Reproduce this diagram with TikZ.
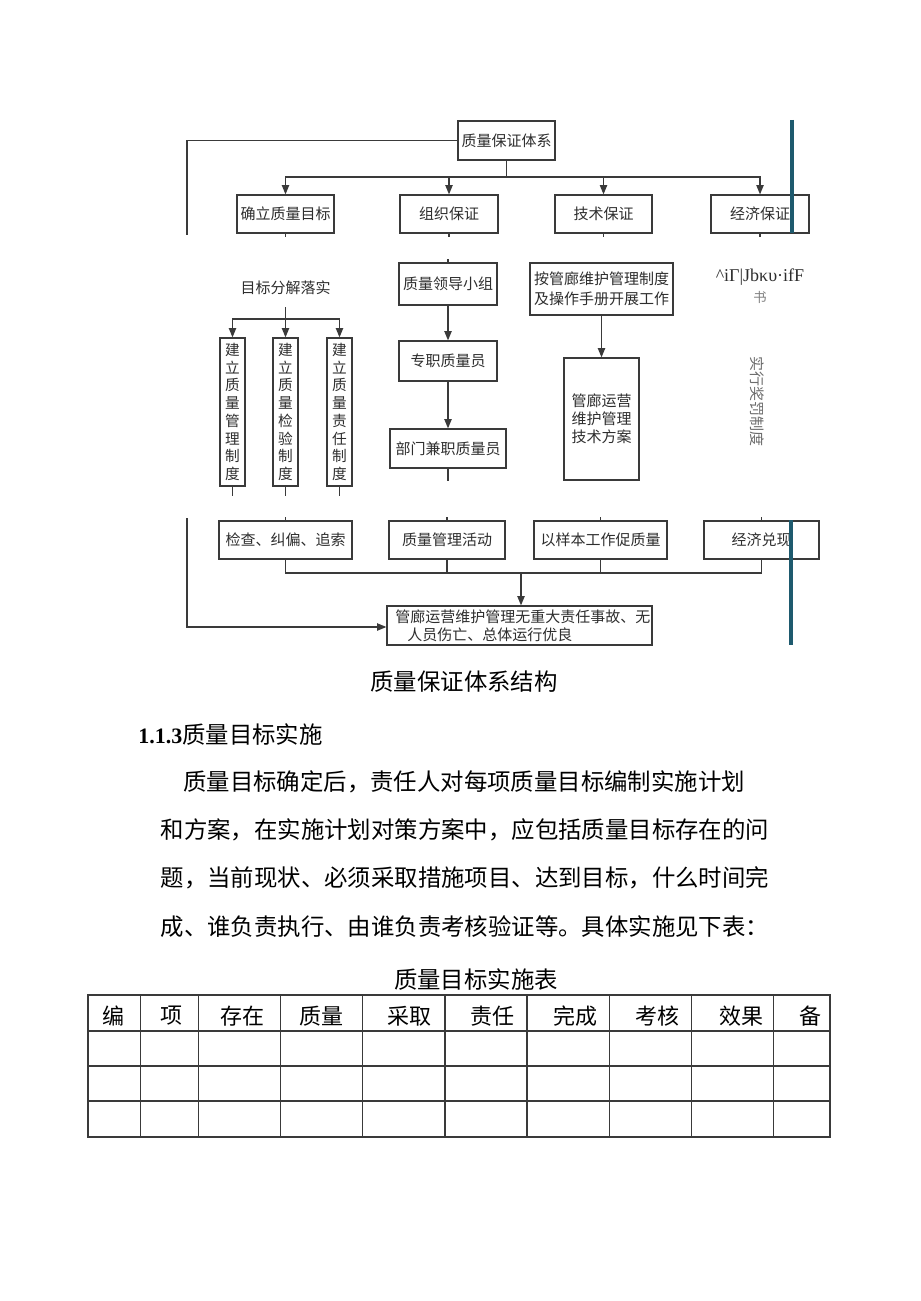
\documentclass[tikz,border=0pt]{standalone}
\usepackage{fontspec}
\setmainfont{Liberation Serif}
\newfontfamily\cjk{Noto Sans CJK SC}
\usetikzlibrary{arrows.meta}
\definecolor{lncol}{HTML}{3A3A3A}
\definecolor{txtcol}{HTML}{2E2E2E}
\definecolor{barcol}{HTML}{1E5A6E}
\tikzset{
  ln/.style={draw=lncol, line width=0.9pt},
  arr/.style={ln, -{Triangle[length=7pt,width=5.5pt]}},
  bx/.style={draw=lncol, line width=0.9pt, inner sep=0pt, text=txtcol, align=center,
     font=\cjk\fontsize{11.25}{15}\selectfont},
  lbl/.style={inner sep=0pt, text=txtcol, font=\cjk\fontsize{11.25}{15}\selectfont},
  body/.style={inner sep=0pt, anchor=west, font=\cjk\fontsize{17.55}{20}\selectfont},
  ctr/.style={inner sep=0pt, font=\cjk\fontsize{17.55}{20}\selectfont},
  th/.style={inner sep=0pt, font=\cjk\fontsize{16.5}{20}\selectfont},
  tbl/.style={draw=lncol, line width=0.8pt},
  bar/.style={draw=barcol, line width=2.3pt}
}
\newcommand\mybox[7][]{\node[bx,#1,minimum width={0.75pt*(#5-#3)},minimum height={0.75pt*(#6-#4)}] (#2) at ({(#3+#5)/2},{(#4+#6)/2}) {#7};}
\begin{document}
\begin{tikzpicture}[x=0.75pt,y=-0.75pt]
\fill[white] (0,0) rectangle (920,1301);
\useasboundingbox (0,0) rectangle (920,1301);

% ---- top part ----
\mybox{top}{458}{121}{555}{160}{质量保证体系}
\mybox{b1}{237}{195}{334}{233}{确立质量目标}
\mybox{b2}{400}{195}{498}{233}{组织保证}
\mybox{b3}{555}{195}{652}{233}{技术保证}
\mybox{b4}{711}{195}{809}{233}{经济保证}
\coordinate (h1) at (506.5,177);
\draw[ln] (top.south) -- (h1);
\draw[arr] (h1) -| (b1.north);
\draw[arr] (h1) -| (b2.north);
\draw[arr] (h1) -| (b3.north);
\draw[arr] (h1) -| (b4.north);
\coordinate (L1) at (187,140.5);
\coordinate (L2) at (187,235);
\draw[ln] (top.west) -- (L1) -- (L2);
\foreach \n in {b1,b2,b3,b4} {\draw[ln] (\n.south) -- ++(0,3);}

% ---- middle part ----
\node[lbl, minimum height=28.5pt] (t1) at (285.5,288) {目标分解落实};
\mybox[font=\cjk\fontsize{11}{13.3}\selectfont]{v1}{220}{338}{245}{486}{建\\立\\质\\量\\管\\理\\制\\度}
\mybox[font=\cjk\fontsize{11}{13.3}\selectfont]{v2}{273}{338}{298}{486}{建\\立\\质\\量\\检\\验\\制\\度}
\mybox[font=\cjk\fontsize{11}{13.3}\selectfont]{v3}{327}{338}{352}{486}{建\\立\\质\\量\\责\\任\\制\\度}
\coordinate (j1) at (285.5,319);
\draw[arr] (t1.south) -- (v2.north);
\draw[arr] (j1) -| (v1.north);
\draw[arr] (j1) -| (v3.north);
\foreach \n in {v1,v2,v3} {\draw[ln] (\n.south) -- ++(0,9);}

\mybox{o1}{399}{263}{497}{305}{质量领导小组}
\mybox{o2}{399}{341}{497}{381}{专职质量员}
\mybox{o3}{390}{429}{506}{468}{部门兼职质量员}
\draw[ln] (o1.north) -- ++(0,-3);
\draw[arr] (o1.south) -- (o2.north);
\draw[arr] (o2.south) -- (o2.south |- o3.north);
\draw[ln] (o3.south) -- ++(0,12);

\mybox[font=\cjk\fontsize{11.25}{15}\selectfont]{k1}{530}{263}{673}{315}{按管廊维护管理制度\\及操作手册开展工作}
\mybox[font=\cjk\fontsize{11.25}{13.5}\selectfont]{k2}{564}{358}{639}{480}{管廊运营\\维护管理\\技术方案}
\draw[arr] (k1.south) -- (k2.north);

\node[inner sep=0pt, text=txtcol, font=\fontsize{13.5}{15}\selectfont] (g1) at (760,277) {\^{}iΓ|Jbκυ·ifF};
\node[inner sep=0pt, text=gray, font=\cjk\fontsize{10}{12}\selectfont] (g2) at (760,297) {书};
\node[inner sep=0pt, text=gray!85!black, rotate=-90, font=\cjk\fontsize{11.25}{13}\selectfont] (g3) at (757,402) {实行奖罚制度};

% ---- bottom part ----
\mybox{r1}{219}{521}{352}{559}{检查、纠偏、追索}
\mybox{r2}{389}{521}{505}{559}{质量管理活动}
\mybox{r3}{534}{521}{667}{559}{以样本工作促质量}
\mybox{r4}{704}{521}{819}{559}{经济兑现}
\foreach \n in {r1,r2,r3,r4} {\draw[ln] (\n.north) -- ++(0,-3);}
\node[bx, minimum width={0.75pt*265}, minimum height={0.75pt*39}] (goal) at (519.5,625.5) {};
\node[lbl, anchor=west] (gl1) at (395,616.7) {管廊运营维护管理无重大责任事故、无};
\node[lbl, anchor=west] (gl2) at (407,635) {人员伤亡、总体运行优良};
\coordinate (m) at (521,573);
\draw[ln] (r1.south) |- (r4.south |- m) -- (r4.south);
\draw[ln] (r2.south) -- (r2.south |- m);
\draw[ln] (r3.south) -- (r3.south |- m);
\draw[arr] (m) -- (m |- goal.north);
\coordinate (L3) at (187,518);
\coordinate (L4) at (187,627);
\draw[arr] (L3) -- (L4) -- (goal.west |- L4);

% ---- blue bar ----
\coordinate (B1) at (792,120);
\coordinate (B2) at (792,233);
\coordinate (B3) at (791,520);
\coordinate (B4) at (791,645);
\draw[bar] (B1) -- (B2);
\draw[bar] (B3) -- (B4);

% ---- text ----
\node[ctr] (cap) at (464,682) {质量保证体系结构};
\node[inner sep=0pt, anchor=west] (hd) at (138,735) {{\fontsize{16.5}{20}\selectfont\bfseries 1.1.3}{\cjk\fontsize{17.55}{20}\selectfont 质量目标实施}};
\node[body] (p1) at (183,781.7) {质量目标确定后，责任人对每项质量目标编制实施计划};
\node[body] (p2) at (160.5,830) {和方案，在实施计划对策方案中，应包括质量目标存在的问};
\node[body] (p3) at (160.5,878) {题，当前现状、必须采取措施项目、达到目标，什么时间完};
\node[body] (p4) at (160.5,926.7) {成、谁负责执行、由谁负责考核验证等。具体实施见下表：};

% ---- table ----
\node[ctr] (tt) at (476,980) {质量目标实施表};
\draw[tbl] (88,995) rectangle (830,1137);
\foreach \yy in {1031,1066,1101} {\draw[tbl] (88,\yy) -- (830,\yy);}
\foreach \xx in {140.5,198.5,280.5,362.5,445,527,609.5,691.5,773.5} {\draw[tbl] (\xx,995) -- (\xx,1137);}
\node[th] (c1) at (113,1016) {编};
\node[th] (c2) at (171,1016) {项};
\node[th] (c3) at (242,1016) {存在};
\node[th] (c4) at (321.6,1016) {质量};
\node[th] (c5) at (409,1016) {采取};
\node[th] (c6) at (492,1016) {责任};
\node[th] (c7) at (575,1016) {完成};
\node[th] (c8) at (657.6,1016) {考核};
\node[th] (c9) at (741.7,1016) {效果};
\node[th] (c10) at (810,1016) {备};
\end{tikzpicture}
\end{document}
